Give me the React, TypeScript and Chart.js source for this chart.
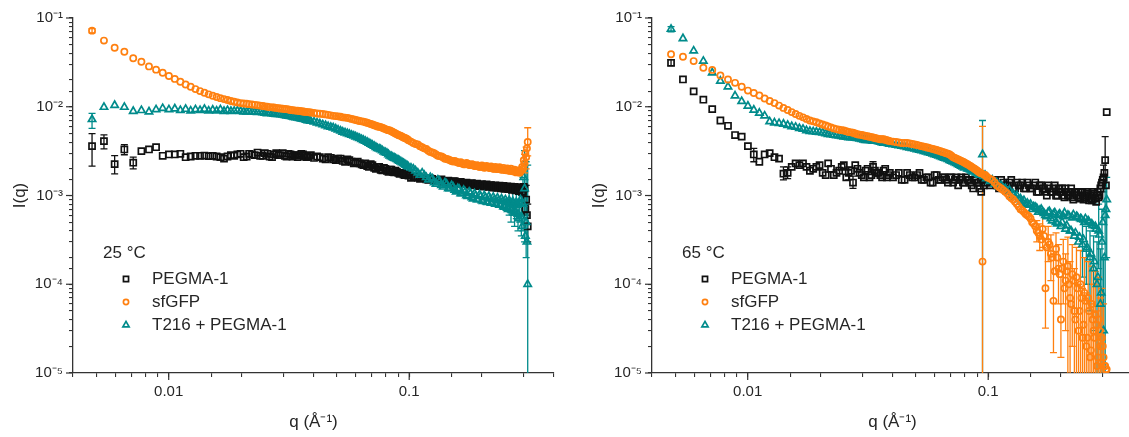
import React, { useEffect, useRef } from 'react';
import { Chart, registerables } from 'chart.js';

Chart.register(...registerables);

// ---------------- data ----------------
// main q grid (Å⁻¹)
const q = [
  0.0048, 0.00538, 0.00596, 0.00654, 0.00712, 0.0077, 0.00828, 0.00886, 0.00944, 0.01002, 0.0106, 0.01118,
  0.01176, 0.01234, 0.01292, 0.0135, 0.01408, 0.01466, 0.01524, 0.01582, 0.0164, 0.01698, 0.01756, 0.01814,
  0.0193, 0.0205, 0.0216, 0.0228, 0.024, 0.0251, 0.0263, 0.0274, 0.0286, 0.0298, 0.0309, 0.0321, 0.0332, 0.0344,
  0.0356, 0.0367, 0.0379, 0.039,
  0.0414, 0.0437, 0.046, 0.0483, 0.0506, 0.0529, 0.0553, 0.0576, 0.0599, 0.0622, 0.0645, 0.0669, 0.0692, 0.0715,
  0.0738, 0.0761, 0.0785, 0.0808, 0.0831, 0.0854, 0.0877, 0.0901, 0.0924, 0.0947, 0.097, 0.0993,
  0.104, 0.1086, 0.1132, 0.1178, 0.1224, 0.127, 0.1316, 0.1362, 0.1408, 0.1454, 0.15, 0.1546, 0.1592, 0.1638,
  0.1684, 0.173, 0.1776, 0.1822, 0.1868, 0.1914, 0.196, 0.2006, 0.2052, 0.2098, 0.2144, 0.219, 0.2236, 0.2282,
  0.2328, 0.2374, 0.242, 0.2466, 0.2512, 0.2558, 0.2604, 0.265, 0.2696, 0.2742, 0.2788, 0.2834, 0.288, 0.2926,
  0.2972, 0.3018, 0.3064, 0.311,
];
// in-between q points of the dense part
const qMid = [
  0.01872, 0.0199, 0.0211, 0.0222, 0.0234, 0.0246, 0.0257, 0.0269, 0.028, 0.0292, 0.0304, 0.0315, 0.0327, 0.0338,
  0.035, 0.0362, 0.0373, 0.0385,
  0.0402, 0.0425, 0.0449, 0.0472, 0.0495, 0.0518, 0.0541, 0.0564, 0.0588, 0.0611, 0.0634, 0.0657, 0.068, 0.0703,
  0.0727, 0.075, 0.0773, 0.0796, 0.082, 0.0843, 0.0866, 0.0889, 0.0912, 0.0935, 0.0959, 0.0982,
  0.1017, 0.1063, 0.1109, 0.1155, 0.1201, 0.1247, 0.1293, 0.1339, 0.1385, 0.1431, 0.1477, 0.1523, 0.1569, 0.1615,
  0.1661, 0.1707, 0.1753, 0.1799, 0.1845, 0.1891, 0.1937, 0.1983, 0.2029, 0.2075, 0.2121, 0.2167, 0.2213, 0.2259,
  0.2305, 0.2351, 0.2397, 0.2443, 0.2489, 0.2535, 0.2581, 0.2627, 0.2673, 0.2719, 0.2765, 0.2811, 0.2857, 0.2903,
  0.2949, 0.2995, 0.3041, 0.3087,
];

// 25 °C
const pegma25 = [
  3.6e-3, 4.1e-3, 2.26e-3, 3.3e-3, 2.34e-3, 3.16e-3, 3.3e-3, 3.5e-3, 2.8e-3, 2.9e-3, 2.9e-3, 2.95e-3,
  2.7e-3, 2.75e-3, 2.8e-3, 2.8e-3, 2.82e-3, 2.78e-3, 2.8e-3, 2.75e-3, 2.7e-3, 2.6e-3, 2.75e-3, 2.85e-3,
  2.9e-3, 2.7e-3, 2.95e-3, 2.85e-3, 2.8e-3, 3.0e-3, 2.75e-3, 2.9e-3, 2.85e-3, 3.0e-3, 2.75e-3, 2.9e-3, 2.85e-3, 2.7e-3,
  2.95e-3, 2.8e-3, 2.75e-3, 2.85e-3,
  2.75e-3, 2.6e-3, 2.7e-3, 2.55e-3, 2.6e-3, 2.45e-3, 2.55e-3, 2.4e-3, 2.35e-3, 2.3e-3, 2.2e-3, 2.15e-3, 2.25e-3, 2.05e-3,
  2.1e-3, 1.95e-3, 2.05e-3, 1.9e-3, 1.95e-3, 1.85e-3, 1.9e-3, 1.8e-3, 1.8e-3, 1.72e-3, 1.75e-3, 1.68e-3,
  1.62e-3, 1.58e-3, 1.6e-3, 1.52e-3, 1.56e-3, 1.5e-3, 1.48e-3, 1.52e-3, 1.44e-3, 1.47e-3, 1.42e-3, 1.45e-3, 1.38e-3, 1.42e-3,
  1.36e-3, 1.4e-3, 1.34e-3, 1.38e-3, 1.32e-3, 1.36e-3, 1.3e-3, 1.34e-3, 1.28e-3, 1.33e-3, 1.27e-3, 1.31e-3, 1.25e-3, 1.3e-3,
  1.24e-3, 1.29e-3, 1.22e-3, 1.28e-3, 1.21e-3, 1.27e-3, 1.2e-3, 1.26e-3, 1.18e-3, 1.25e-3, 1.16e-3, 1.24e-3, 1.15e-3, 1.22e-3,
  1.1e-3, 1.2e-3, 0.9e-3, 0.45e-3,
];
const pegma25Mid = [
  2.8e-3, 2.95e-3, 2.75e-3, 2.9e-3, 3.05e-3, 2.8e-3, 2.95e-3, 2.7e-3, 3.0e-3, 2.85e-3, 2.8e-3, 2.95e-3, 2.75e-3, 2.85e-3,
  2.8e-3, 2.9e-3, 2.7e-3, 2.8e-3,
  2.65e-3, 2.7e-3, 2.55e-3, 2.65e-3, 2.5e-3, 2.6e-3, 2.4e-3, 2.5e-3, 2.3e-3, 2.4e-3, 2.25e-3, 2.3e-3, 2.1e-3, 2.2e-3,
  2.0e-3, 2.1e-3, 1.92e-3, 2.0e-3, 1.85e-3, 1.95e-3, 1.82e-3, 1.85e-3, 1.75e-3, 1.8e-3, 1.7e-3, 1.72e-3,
  1.58e-3, 1.64e-3, 1.54e-3, 1.58e-3, 1.5e-3, 1.54e-3, 1.46e-3, 1.5e-3, 1.42e-3, 1.46e-3, 1.4e-3, 1.44e-3, 1.36e-3, 1.4e-3,
  1.34e-3, 1.38e-3, 1.32e-3, 1.36e-3, 1.3e-3, 1.34e-3, 1.28e-3, 1.32e-3, 1.26e-3, 1.31e-3, 1.25e-3, 1.3e-3, 1.23e-3, 1.28e-3,
  1.22e-3, 1.27e-3, 1.2e-3, 1.26e-3, 1.19e-3, 1.25e-3, 1.18e-3, 1.24e-3, 1.16e-3, 1.23e-3, 1.14e-3, 1.22e-3, 1.12e-3, 1.2e-3,
  1.1e-3, 1.25e-3, 0.7e-3, 0.6e-3,
];
const sfgfp25 = [
  7.2e-2, 5.56e-2, 4.62e-2, 4.17e-2, 3.52e-2, 3.22e-2, 2.85e-2, 2.62e-2, 2.42e-2, 2.22e-2, 2.06e-2, 1.91e-2,
  1.78e-2, 1.68e-2, 1.58e-2, 1.5e-2, 1.44e-2, 1.38e-2, 1.33e-2, 1.29e-2, 1.25e-2, 1.22e-2, 1.19e-2, 1.16e-2,
  1.12e-2, 1.09e-2, 1.07e-2, 1.05e-2, 1.03e-2, 1.01e-2, 9.9e-3, 9.8e-3, 9.6e-3, 9.5e-3, 9.4e-3, 9.2e-3, 9.1e-3, 9.0e-3,
  8.9e-3, 8.8e-3, 8.7e-3, 8.6e-3,
  8.4e-3, 8.3e-3, 8.1e-3, 7.9e-3, 7.8e-3, 7.6e-3, 7.5e-3, 7.3e-3, 7.1e-3, 6.9e-3, 6.8e-3, 6.6e-3, 6.4e-3, 6.2e-3,
  6.0e-3, 5.9e-3, 5.7e-3, 5.5e-3, 5.4e-3, 5.2e-3, 5.0e-3, 4.8e-3, 4.7e-3, 4.5e-3, 4.4e-3, 4.2e-3,
  3.9e-3, 3.75e-3, 3.5e-3, 3.35e-3, 3.1e-3, 3.0e-3, 2.8e-3, 2.75e-3, 2.6e-3, 2.55e-3, 2.45e-3, 2.45e-3, 2.35e-3, 2.38e-3,
  2.25e-3, 2.32e-3, 2.2e-3, 2.25e-3, 2.15e-3, 2.2e-3, 2.1e-3, 2.18e-3, 2.05e-3, 2.15e-3, 2.05e-3, 2.12e-3, 2.0e-3, 2.1e-3,
  1.98e-3, 2.08e-3, 1.95e-3, 2.05e-3, 1.93e-3, 2.02e-3, 1.9e-3, 2.0e-3, 1.88e-3, 1.95e-3, 1.82e-3, 1.92e-3, 1.8e-3, 1.9e-3,
  2.0e-3, 2.3e-3, 2.7e-3, 4.0e-3,
];
const sfgfp25Mid = [
  1.14e-2, 1.1e-2, 1.08e-2, 1.06e-2, 1.04e-2, 1.02e-2, 1.0e-2, 9.85e-3, 9.7e-3, 9.55e-3, 9.45e-3, 9.3e-3, 9.15e-3, 9.05e-3,
  8.95e-3, 8.85e-3, 8.75e-3, 8.65e-3,
  8.5e-3, 8.35e-3, 8.2e-3, 8.0e-3, 7.85e-3, 7.7e-3, 7.55e-3, 7.4e-3, 7.2e-3, 7.0e-3, 6.85e-3, 6.7e-3, 6.5e-3, 6.3e-3,
  6.1e-3, 5.95e-3, 5.8e-3, 5.6e-3, 5.45e-3, 5.3e-3, 5.1e-3, 4.9e-3, 4.75e-3, 4.6e-3, 4.45e-3, 4.3e-3,
  4.05e-3, 3.8e-3, 3.6e-3, 3.4e-3, 3.2e-3, 3.05e-3, 2.9e-3, 2.78e-3, 2.68e-3, 2.58e-3, 2.5e-3, 2.42e-3, 2.4e-3, 2.32e-3,
  2.3e-3, 2.25e-3, 2.28e-3, 2.2e-3, 2.22e-3, 2.15e-3, 2.16e-3, 2.1e-3, 2.12e-3, 2.08e-3, 2.1e-3, 2.04e-3, 2.06e-3, 2.0e-3,
  2.04e-3, 1.98e-3, 2.0e-3, 1.96e-3, 1.98e-3, 1.92e-3, 1.96e-3, 1.9e-3, 1.92e-3, 1.86e-3, 1.88e-3, 1.84e-3, 1.86e-3, 1.88e-3,
  2.1e-3, 2.5e-3, 3.0e-3, 3.4e-3,
];
const t216_25 = [
  7.2e-3, 9.9e-3, 1.04e-2, 9.9e-3, 8.9e-3, 9.1e-3, 8.8e-3, 9.3e-3, 9.6e-3, 9.3e-3, 9.5e-3, 9.1e-3,
  9.4e-3, 9.0e-3, 9.3e-3, 9.1e-3, 9.4e-3, 9.0e-3, 9.2e-3, 9.0e-3, 9.3e-3, 8.9e-3, 9.1e-3, 8.9e-3,
  9.0e-3, 8.8e-3, 8.9e-3, 8.7e-3, 8.7e-3, 8.5e-3, 8.5e-3, 8.3e-3, 8.2e-3, 8.1e-3, 7.9e-3, 7.8e-3, 7.6e-3, 7.5e-3,
  7.3e-3, 7.2e-3, 7.0e-3, 6.9e-3,
  6.6e-3, 6.3e-3, 6.0e-3, 5.8e-3, 5.5e-3, 5.2e-3, 5.0e-3, 4.8e-3, 4.6e-3, 4.4e-3, 4.2e-3, 4.0e-3, 3.8e-3, 3.6e-3,
  3.4e-3, 3.3e-3, 3.1e-3, 3.0e-3, 2.8e-3, 2.7e-3, 2.6e-3, 2.5e-3, 2.4e-3, 2.3e-3, 2.2e-3, 2.1e-3,
  2.0e-3, 1.8e-3, 1.8e-3, 1.6e-3, 1.6e-3, 1.4e-3, 1.5e-3, 1.3e-3, 1.4e-3, 1.2e-3, 1.3e-3, 1.15e-3, 1.2e-3, 1.05e-3,
  1.15e-3, 1.0e-3, 1.1e-3, 0.95e-3, 1.05e-3, 0.9e-3, 1.02e-3, 0.88e-3, 1.0e-3, 0.85e-3, 0.98e-3, 0.82e-3, 0.96e-3, 0.8e-3,
  0.94e-3, 0.78e-3, 0.92e-3, 0.75e-3, 0.9e-3, 0.72e-3, 0.88e-3, 0.7e-3, 0.86e-3, 0.66e-3, 0.84e-3, 0.62e-3, 0.82e-3, 0.58e-3,
  0.8e-3, 1.2e-3, 0.5e-3, 1.0e-4,
];
const t216_25Mid = [
  8.95e-3, 8.9e-3, 8.8e-3, 8.75e-3, 8.65e-3, 8.6e-3, 8.4e-3, 8.4e-3, 8.2e-3, 8.15e-3, 8.0e-3, 7.85e-3, 7.7e-3, 7.55e-3,
  7.4e-3, 7.25e-3, 7.1e-3, 7.0e-3,
  6.75e-3, 6.45e-3, 6.15e-3, 5.9e-3, 5.65e-3, 5.35e-3, 5.1e-3, 4.9e-3, 4.7e-3, 4.5e-3, 4.3e-3, 4.1e-3, 3.9e-3, 3.7e-3,
  3.5e-3, 3.35e-3, 3.2e-3, 3.05e-3, 2.9e-3, 2.75e-3, 2.65e-3, 2.55e-3, 2.45e-3, 2.35e-3, 2.25e-3, 2.15e-3,
  2.05e-3, 1.9e-3, 1.7e-3, 1.7e-3, 1.5e-3, 1.55e-3, 1.35e-3, 1.45e-3, 1.25e-3, 1.35e-3, 1.2e-3, 1.25e-3, 1.1e-3, 1.18e-3,
  1.05e-3, 1.1e-3, 0.98e-3, 1.06e-3, 0.92e-3, 1.0e-3, 0.9e-3, 0.98e-3, 0.86e-3, 0.95e-3, 0.84e-3, 0.92e-3, 0.82e-3, 0.9e-3,
  0.8e-3, 0.88e-3, 0.78e-3, 0.86e-3, 0.74e-3, 0.84e-3, 0.7e-3, 0.82e-3, 0.68e-3, 0.8e-3, 0.64e-3, 0.78e-3, 0.55e-3, 0.9e-3,
  0.45e-3, 1.6e-3, 0.35e-3, 0.3e-3,
];

// 65 °C
const pegma65 = [
  3.13e-2, 2.03e-2, 1.49e-2, 1.2e-2, 9.4e-3, 7.0e-3, 6.1e-3, 4.8e-3, 4.6e-3, 3.6e-3, 2.9e-3, 2.4e-3,
  2.9e-3, 3.0e-3, 2.7e-3, 2.6e-3, 1.76e-3, 1.8e-3, 2.1e-3, 2.3e-3, 2.2e-3, 2.3e-3, 2.1e-3, 1.9e-3,
  2.1e-3, 1.8e-3, 2.3e-3, 1.7e-3, 1.9e-3, 2.2e-3, 1.8e-3, 1.4e-3, 2.0e-3, 1.7e-3, 1.9e-3, 1.6e-3, 2.1e-3, 1.8e-3,
  1.7e-3, 1.9e-3, 1.6e-3, 1.8e-3,
  1.7e-3, 1.5e-3, 1.8e-3, 1.6e-3, 1.7e-3, 1.5e-3, 1.6e-3, 1.4e-3, 1.7e-3, 1.5e-3, 1.6e-3, 1.5e-3, 1.6e-3, 1.4e-3,
  1.6e-3, 1.5e-3, 1.4e-3, 1.6e-3, 1.5e-3, 1.3e-3, 1.5e-3, 1.4e-3, 1.2e-3, 1.5e-3, 1.4e-3, 1.4e-3,
  1.4e-3, 1.3e-3, 1.5e-3, 1.3e-3, 1.4e-3, 1.2e-3, 1.4e-3, 1.3e-3, 1.2e-3, 1.4e-3, 1.2e-3, 1.3e-3, 1.1e-3, 1.3e-3,
  1.2e-3, 1.1e-3, 1.3e-3, 1.1e-3, 1.2e-3, 1.0e-3, 1.2e-3, 1.1e-3, 1.0e-3, 1.2e-3, 1.0e-3, 1.1e-3, 0.95e-3, 1.1e-3,
  1.0e-3, 1.1e-3, 0.92e-3, 1.1e-3, 0.95e-3, 1.1e-3, 0.92e-3, 1.0e-3, 0.88e-3, 1.1e-3, 0.92e-3, 1.0e-3, 0.95e-3, 1.2e-3,
  1.4e-3, 1.6e-3, 2.5e-3, 8.7e-3,
];
const pegma65Mid = [
  2.0e-3, 2.2e-3, 1.7e-3, 2.0e-3, 1.8e-3, 2.1e-3, 1.6e-3, 1.9e-3, 2.2e-3, 1.8e-3, 1.6e-3, 2.0e-3, 1.7e-3, 1.9e-3,
  1.8e-3, 1.6e-3, 2.0e-3, 1.7e-3,
  1.6e-3, 1.8e-3, 1.5e-3, 1.7e-3, 1.6e-3, 1.8e-3, 1.5e-3, 1.6e-3, 1.4e-3, 1.7e-3, 1.5e-3, 1.6e-3, 1.4e-3, 1.6e-3,
  1.5e-3, 1.3e-3, 1.6e-3, 1.4e-3, 1.5e-3, 1.4e-3, 1.2e-3, 1.5e-3, 1.4e-3, 1.1e-3, 1.3e-3, 1.5e-3,
  1.3e-3, 1.5e-3, 1.2e-3, 1.4e-3, 1.3e-3, 1.5e-3, 1.2e-3, 1.3e-3, 1.4e-3, 1.2e-3, 1.3e-3, 1.2e-3, 1.4e-3, 1.1e-3,
  1.3e-3, 1.2e-3, 1.0e-3, 1.2e-3, 1.1e-3, 1.3e-3, 1.0e-3, 1.1e-3, 1.2e-3, 0.95e-3, 1.1e-3, 1.0e-3, 1.2e-3, 0.9e-3,
  1.1e-3, 1.0e-3, 0.95e-3, 1.1e-3, 0.9e-3, 1.0e-3, 1.05e-3, 0.88e-3, 1.0e-3, 0.9e-3, 1.05e-3, 0.85e-3, 1.1e-3, 1.0e-3,
  1.3e-3, 1.5e-3, 1.8e-3, 1.3e-3,
];
const sfgfp65 = [
  3.9e-2, 3.66e-2, 3.27e-2, 2.75e-2, 2.6e-2, 2.25e-2, 2.03e-2, 1.86e-2, 1.68e-2, 1.52e-2, 1.43e-2, 1.34e-2,
  1.24e-2, 1.16e-2, 1.1e-2, 1.03e-2, 9.7e-3, 9.2e-3, 8.7e-3, 8.3e-3, 7.9e-3, 7.6e-3, 7.3e-3, 7.0e-3,
  6.7e-3, 6.3e-3, 6.0e-3, 5.7e-3, 5.5e-3, 5.4e-3, 5.2e-3, 5.1e-3, 4.9e-3, 4.8e-3, 4.7e-3, 4.6e-3, 4.5e-3, 4.4e-3,
  4.3e-3, 4.3e-3, 4.2e-3, 4.1e-3,
  4.0e-3, 3.9e-3, 3.9e-3, 3.8e-3, 3.7e-3, 3.6e-3, 3.5e-3, 3.4e-3, 3.3e-3, 3.2e-3, 3.1e-3, 3.0e-3, 2.9e-3, 2.7e-3,
  2.6e-3, 2.5e-3, 2.4e-3, 2.3e-3, 2.2e-3, 2.1e-3, 2.0e-3, 1.9e-3, 1.8e-3, 1.8e-4, 1.7e-3, 1.6e-3,
  1.5e-3, 1.3e-3, 1.2e-3, 1.1e-3, 9.8e-4, 9.0e-4, 8.0e-4, 7.0e-4, 6.5e-4, 6.0e-4, 5.5e-4, 4.8e-4, 4.0e-4, 3.5e-4,
  4.2e-4, 9.0e-5, 3.0e-4, 2.2e-4, 6.5e-5, 2.5e-4, 1.5e-4, 4.0e-5, 1.8e-4, 1.1e-4, 1.6e-4, 7.0e-5, 1.3e-4, 5.0e-5,
  1.2e-4, 3.0e-5, 1.0e-4, 2.5e-5, 8.0e-5, 2.0e-5, 7.0e-5, 1.5e-5, 6.0e-5, 3.0e-5, 4.5e-5, 1.2e-5, 4.0e-5, 2.0e-5,
  2.5e-5, 1.5e-5, 1.2e-5, 1.1e-5,
];
const sfgfp65Mid = [
  6.85e-3, 6.5e-3, 6.15e-3, 5.85e-3, 5.6e-3, 5.45e-3, 5.3e-3, 5.15e-3, 5.0e-3, 4.85e-3, 4.75e-3, 4.65e-3, 4.55e-3, 4.45e-3,
  4.35e-3, 4.3e-3, 4.25e-3, 4.15e-3,
  4.05e-3, 3.95e-3, 3.9e-3, 3.85e-3, 3.75e-3, 3.65e-3, 3.55e-3, 3.45e-3, 3.35e-3, 3.25e-3, 3.15e-3, 3.05e-3, 2.95e-3, 2.8e-3,
  2.65e-3, 2.55e-3, 2.45e-3, 2.35e-3, 2.25e-3, 2.15e-3, 2.05e-3, 1.95e-3, 1.85e-3, 1.78e-3, 1.72e-3, 1.65e-3,
  1.55e-3, 1.4e-3, 1.25e-3, 1.15e-3, 1.05e-3, 9.4e-4, 8.5e-4, 7.5e-4, 6.8e-4, 6.2e-4, 5.8e-4, 5.0e-4, 4.5e-4, 3.8e-4,
  3.2e-4, 3.5e-4, 2.6e-4, 2.8e-4, 2.0e-4, 1.4e-4, 2.0e-4, 1.3e-4, 1.5e-4, 9.0e-5, 1.4e-4, 1.0e-4, 6.0e-5, 1.1e-4,
  4.0e-5, 9.0e-5, 5.0e-5, 7.0e-5, 3.5e-5, 6.5e-5, 2.5e-5, 5.0e-5, 1.8e-5, 4.0e-5, 2.5e-5, 3.5e-5, 1.5e-5, 3.0e-5,
  1.3e-5, 2.0e-5, 1.2e-5, 1.1e-5,
];
const t216_65 = [
  7.5e-2, 5.88e-2, 4.27e-2, 3.27e-2, 2.42e-2, 1.95e-2, 1.68e-2, 1.33e-2, 1.15e-2, 1.02e-2, 9.2e-3, 8.5e-3,
  7.9e-3, 6.8e-3, 6.6e-3, 6.5e-3, 6.4e-3, 6.2e-3, 6.0e-3, 5.9e-3, 5.7e-3, 5.6e-3, 5.4e-3, 5.3e-3,
  5.2e-3, 5.1e-3, 4.9e-3, 4.8e-3, 4.7e-3, 4.6e-3, 4.5e-3, 4.5e-3, 4.4e-3, 4.3e-3, 4.2e-3, 4.2e-3, 4.1e-3, 4.1e-3,
  4.0e-3, 3.9e-3, 3.9e-3, 3.8e-3,
  3.7e-3, 3.6e-3, 3.5e-3, 3.4e-3, 3.3e-3, 3.2e-3, 3.1e-3, 3.0e-3, 2.9e-3, 2.8e-3, 2.7e-3, 2.6e-3, 2.5e-3, 2.4e-3,
  2.3e-3, 2.2e-3, 2.1e-3, 2.1e-3, 2.0e-3, 1.9e-3, 1.9e-3, 1.8e-3, 1.7e-3, 2.9e-3, 1.7e-3, 1.6e-3,
  1.5e-3, 1.4e-3, 1.3e-3, 1.2e-3, 1.15e-3, 1.05e-3, 1.0e-3, 9.2e-4, 8.8e-4, 8.2e-4, 8.0e-4, 7.5e-4, 7.2e-4, 6.8e-4,
  6.6e-4, 6.0e-4, 6.5e-4, 5.5e-4, 6.2e-4, 5.0e-4, 6.0e-4, 4.5e-4, 5.8e-4, 4.2e-4, 6.0e-4, 4.0e-4, 5.6e-4, 3.5e-4,
  5.8e-4, 3.0e-4, 5.5e-4, 2.8e-4, 5.0e-4, 2.5e-4, 5.2e-4, 2.0e-4, 4.8e-4, 1.5e-4, 4.5e-4, 1.0e-4, 4.0e-4, 6.0e-5,
  3.0e-4, 3.0e-5, 6.0e-4, 9.0e-4,
];
const t216_65Mid = [
  5.25e-3, 5.15e-3, 5.0e-3, 4.85e-3, 4.75e-3, 4.65e-3, 4.55e-3, 4.5e-3, 4.45e-3, 4.35e-3, 4.25e-3, 4.2e-3, 4.15e-3, 4.1e-3,
  4.05e-3, 3.95e-3, 3.9e-3, 3.85e-3,
  3.75e-3, 3.65e-3, 3.55e-3, 3.45e-3, 3.35e-3, 3.25e-3, 3.15e-3, 3.05e-3, 2.95e-3, 2.85e-3, 2.75e-3, 2.65e-3, 2.55e-3, 2.45e-3,
  2.35e-3, 2.25e-3, 2.15e-3, 2.05e-3, 2.0e-3, 1.95e-3, 1.85e-3, 1.8e-3, 1.75e-3, 1.7e-3, 1.65e-3, 1.55e-3,
  1.45e-3, 1.35e-3, 1.25e-3, 1.2e-3, 1.1e-3, 1.0e-3, 9.6e-4, 9.0e-4, 8.5e-4, 8.0e-4, 7.8e-4, 7.0e-4, 7.4e-4, 6.5e-4,
  7.0e-4, 6.3e-4, 5.8e-4, 6.6e-4, 5.2e-4, 6.4e-4, 4.8e-4, 6.2e-4, 5.0e-4, 6.4e-4, 4.6e-4, 5.9e-4, 4.0e-4, 6.1e-4,
  3.8e-4, 5.7e-4, 3.4e-4, 5.4e-4, 3.2e-4, 5.5e-4, 2.6e-4, 5.0e-4, 2.2e-4, 4.6e-4, 1.8e-4, 4.2e-4, 1.2e-4, 3.6e-4,
  8.0e-5, 5.0e-4, 2.0e-4, 7.0e-4,
];

// error bars: [q, low, high]
const pegma25Err = [
  [0.0048, 2.14e-3, 4.97e-3], [0.00538, 3.36e-3, 4.83e-3], [0.00596, 1.75e-3, 2.82e-3],
  [0.00654, 2.88e-3, 3.75e-3], [0.00712, 2.0e-3, 2.7e-3], [0.3064, 0.6e-3, 1.3e-3], [0.311, 0.3e-3, 0.8e-3],
];
const sfgfp25Err = [
  [0.0048, 6.8e-2, 7.6e-2], [0.3018, 1.8e-3, 2.9e-3], [0.3064, 2.0e-3, 3.5e-3], [0.311, 2.8e-3, 5.8e-3],
];
const t216_25Err = [
  [0.0048, 5.7e-3, 8.4e-3], [0.2604, 0.6e-3, 1.1e-3], [0.265, 0.5e-3, 0.9e-3], [0.2696, 0.6e-3, 1.1e-3],
  [0.2742, 0.45e-3, 0.9e-3], [0.2788, 0.55e-3, 1.2e-3], [0.2834, 0.4e-3, 0.9e-3], [0.288, 0.5e-3, 1.3e-3],
  [0.2926, 0.35e-3, 1.0e-3], [0.2972, 0.4e-3, 1.6e-3], [0.3018, 0.3e-3, 3.2e-3], [0.3064, 0.2e-3, 2.4e-3],
  [0.311, 1e-6, 2.2e-3],
];
const pegma65Err = [
  [0.0048, 2.9e-2, 3.4e-2], [0.0106, 2.4e-3, 3.4e-3], [0.01408, 1.5e-3, 2.1e-3], [0.01466, 1.55e-3, 2.1e-3],
  [0.0263, 1.5e-3, 2.1e-3], [0.0274, 1.2e-3, 1.65e-3], [0.0332, 1.8e-3, 2.4e-3], [0.3018, 1.1e-3, 2.2e-3],
  [0.3064, 1.2e-3, 4.6e-3],
];
const sfgfp65Err = [
  [0.0947, 1e-6, 6e-3], [0.1592, 3.0e-4, 5.2e-4], [0.1638, 2.4e-4, 4.8e-4], [0.1684, 2.6e-4, 6.0e-4],
  [0.173, 3.2e-5, 2.5e-4], [0.1776, 1.8e-4, 4.5e-4], [0.1822, 1.1e-4, 3.6e-4], [0.1868, 1.7e-5, 2.2e-4],
  [0.1914, 1.3e-4, 3.8e-4], [0.196, 6e-5, 2.8e-4], [0.2006, 1.5e-5, 1.2e-4], [0.2052, 6e-5, 3.2e-4],
  [0.2098, 3e-5, 2.2e-4], [0.2144, 1e-6, 3.4e-4], [0.219, 1e-6, 1.8e-4], [0.2236, 2e-5, 2.8e-4],
  [0.2282, 1e-6, 1.5e-4], [0.2328, 1e-6, 2.6e-4], [0.2374, 1e-6, 1.0e-4], [0.242, 1e-6, 2.4e-4],
  [0.2466, 1e-6, 9e-5], [0.2512, 1e-6, 2.0e-4], [0.2558, 1e-6, 8e-5], [0.2604, 1e-6, 1.8e-4],
  [0.265, 1e-6, 6e-5], [0.2696, 1e-6, 1.6e-4], [0.2742, 1e-6, 1.0e-4], [0.2788, 1e-6, 1.4e-4],
  [0.2834, 1e-6, 5e-5], [0.288, 1e-6, 1.2e-4], [0.2926, 1e-6, 7e-5], [0.2972, 1e-6, 9e-5], [0.3018, 1e-6, 6e-5],
];
const t216_65Err = [
  [0.0048, 7.0e-2, 8.0e-2], [0.0947, 1e-6, 7.0e-3], [0.2466, 1.2e-4, 5e-4], [0.2558, 1e-4, 4.5e-4],
  [0.265, 5e-5, 4e-4], [0.2742, 3e-5, 3.5e-4], [0.2834, 1e-6, 3e-4], [0.288, 1.5e-4, 8e-4],
  [0.2926, 1e-6, 2.5e-4], [0.2972, 1e-6, 7e-4], [0.3018, 1e-6, 2e-4], [0.3064, 1e-6, 1.2e-3], [0.311, 2e-4, 1.6e-3],
];

const seriesLabels = ['PEGMA-1', 'sfGFP', 'T216 + PEGMA-1'];
const xTitle = 'q (Å⁻¹)';
const yTitle = 'I(q)';

// ---------------- style ----------------
const FONT = '"Liberation Sans", Arial, Helvetica, sans-serif';
const TEXT = '#262626';
const AXIS = '#333333';
const COLORS = ['#111111', '#ff8010', '#008b8b'];
const STYLES = ['rect', 'circle', 'triangle'];
const RADII = [4.3, 3.1, 4.2];
const ORDERS = [3, 1, 2];

const SUP: Record<string, string> = {
  '-': '⁻', '0': '⁰', '1': '¹', '2': '²', '3': '³', '4': '⁴', '5': '⁵', '6': '⁶', '7': '⁷', '8': '⁸', '9': '⁹',
};
function isPow10(v: number) {
  const e = Math.round(Math.log10(v));
  return Math.abs(v / Math.pow(10, e) - 1) < 1e-6;
}
function pow10Label(v: number) {
  const e = Math.round(Math.log10(v));
  return '10' + String(e).split('').map((c) => SUP[c] || c).join('');
}

function markerPath(ctx: CanvasRenderingContext2D, style: string, x: number, y: number, r: number) {
  ctx.beginPath();
  if (style === 'rect') {
    const s = r * Math.SQRT1_2;
    ctx.rect(x - s, y - s, 2 * s, 2 * s);
  } else if (style === 'circle') {
    ctx.arc(x, y, r, 0, Math.PI * 2);
  } else {
    let a = 0;
    ctx.moveTo(x + Math.sin(a) * r, y - Math.cos(a) * r);
    a += (2 * Math.PI) / 3;
    ctx.lineTo(x + Math.sin(a) * r, y - Math.cos(a) * r);
    a += (2 * Math.PI) / 3;
    ctx.lineTo(x + Math.sin(a) * r, y - Math.cos(a) * r);
    ctx.closePath();
  }
}

const errorBarPlugin = {
  id: 'errorBars',
  beforeDatasetsDraw(chart: any) {
    const { ctx, chartArea: a, scales } = chart;
    ctx.save();
    ctx.beginPath();
    ctx.rect(a.left, a.top - 2, a.right - a.left, a.bottom - a.top + 2);
    ctx.clip();
    const dsList = [...chart.data.datasets].sort((d1: any, d2: any) => d2.order - d1.order);
    dsList.forEach((ds: any) => {
      const bars = ds.errorBars || [];
      ctx.strokeStyle = ds.borderColor;
      ctx.lineWidth = 1.3;
      for (const [qq, lo, hi] of bars) {
        const x = scales.x.getPixelForValue(qq);
        const y1 = scales.y.getPixelForValue(lo);
        const y2 = scales.y.getPixelForValue(hi);
        ctx.beginPath();
        ctx.moveTo(x, y1);
        ctx.lineTo(x, y2);
        ctx.moveTo(x - 3.5, y1);
        ctx.lineTo(x + 3.5, y1);
        ctx.moveTo(x - 3.5, y2);
        ctx.lineTo(x + 3.5, y2);
        ctx.stroke();
      }
    });
    ctx.restore();
  },
};

const majorTickPlugin = {
  id: 'majorTicks',
  afterDraw(chart: any) {
    const { ctx, chartArea: a } = chart;
    const xs = chart.scales.x;
    const ys = chart.scales.y;
    ctx.save();
    ctx.strokeStyle = AXIS;
    ctx.lineWidth = 1.2;
    xs.ticks.forEach((t: any) => {
      if (!isPow10(t.value)) return;
      const x = xs.getPixelForValue(t.value);
      ctx.beginPath();
      ctx.moveTo(x, a.bottom);
      ctx.lineTo(x, a.bottom + 7);
      ctx.stroke();
    });
    ys.ticks.forEach((t: any) => {
      if (!isPow10(t.value)) return;
      const y = ys.getPixelForValue(t.value);
      ctx.beginPath();
      ctx.moveTo(a.left, y);
      ctx.lineTo(a.left - 7, y);
      ctx.stroke();
    });
    ctx.restore();
  },
};

const panelLegendPlugin = {
  id: 'panelLegend',
  afterDraw(chart: any, _args: any, opts: any) {
    const { ctx, chartArea: a } = chart;
    ctx.save();
    ctx.fillStyle = TEXT;
    ctx.font = `17px ${FONT}`;
    ctx.textBaseline = 'middle';
    ctx.textAlign = 'left';
    ctx.fillText(opts.title, a.left + 30, 253);
    chart.data.datasets.forEach((ds: any, i: number) => {
      const y = 279 + 23 * i;
      ctx.strokeStyle = ds.borderColor;
      ctx.lineWidth = 1.7;
      markerPath(ctx, ds.pointStyle, a.left + 53, y, ds.pointStyle === 'circle' ? 2.6 : 3.6);
      ctx.stroke();
      ctx.fillStyle = TEXT;
      ctx.fillText(ds.label, a.left + 79, y);
    });
    ctx.restore();
  },
};

function buildDatasets(values: number[][], mids: number[][], errs: number[][][]) {
  return values.map((vals, i) => ({
    label: seriesLabels[i],
    data: [
      ...q.map((x, k) => ({ x, y: vals[k] })),
      ...qMid.map((x, k) => ({ x, y: mids[i][k] })),
    ],
    borderColor: COLORS[i],
    backgroundColor: 'rgba(0,0,0,0)',
    pointStyle: STYLES[i],
    pointRadius: RADII[i],
    pointBorderWidth: 1.7,
    pointHoverRadius: RADII[i],
    showLine: false,
    order: ORDERS[i],
    errorBars: errs[i],
  }));
}

function Panel({ left, title, values, mids, errs }: {
  left: number; title: string; values: number[][]; mids: number[][]; errs: number[][][];
}) {
  const ref = useRef<HTMLCanvasElement>(null);
  useEffect(() => {
    const canvas = ref.current;
    if (!canvas) return;
    const chart = new Chart(canvas, {
      type: 'scatter',
      data: { datasets: buildDatasets(values, mids, errs) as any },
      options: {
        animation: false,
        responsive: false,
        devicePixelRatio: 1,
        events: [],
        layout: { padding: { top: 18, right: 6, left: 0, bottom: 0 } },
        plugins: {
          legend: { display: false },
          tooltip: { enabled: false },
          panelLegend: { title },
        } as any,
        scales: {
          x: {
            type: 'logarithmic',
            min: 0.004,
            max: 0.4,
            afterFit: (s: any) => { s.height = 64; },
            border: { display: true, color: AXIS, width: 1.3 },
            grid: { display: true, drawOnChartArea: false, drawTicks: true, tickLength: 4, color: AXIS, lineWidth: 1.1 },
            ticks: {
              autoSkip: false,
              maxRotation: 0,
              padding: 6,
              color: TEXT,
              font: { family: FONT, size: 15 },
              callback: (v: any) => (isPow10(Number(v)) ? String(Number(v)) : ''),
            },
            title: {
              display: true,
              text: xTitle,
              color: TEXT,
              font: { family: FONT, size: 17 },
              padding: { top: 0, bottom: 4 },
            },
          },
          y: {
            type: 'logarithmic',
            min: 1e-5,
            max: 0.1,
            afterFit: (s: any) => { s.width = 73; },
            border: { display: true, color: AXIS, width: 1.3 },
            grid: { display: true, drawOnChartArea: false, drawTicks: true, tickLength: 4, color: AXIS, lineWidth: 1.1 },
            ticks: {
              autoSkip: false,
              padding: 6,
              color: TEXT,
              font: { family: FONT, size: 15 },
              callback: (v: any) => (isPow10(Number(v)) ? pow10Label(Number(v)) : ''),
            },
            title: {
              display: true,
              text: yTitle,
              color: TEXT,
              font: { family: FONT, size: 17 },
              padding: { top: 10, bottom: 0 },
            },
          },
        },
      },
      plugins: [errorBarPlugin, majorTickPlugin, panelLegendPlugin],
    });
    return () => chart.destroy();
  }, []);
  return (
    <canvas
      ref={ref}
      width={560}
      height={437}
      style={{ position: 'absolute', left, top: 0, width: 560, height: 437 }}
    />
  );
}

export default function App() {
  return (
    <div style={{ position: 'fixed', left: 0, top: 0, width: 1129, height: 437, overflow: 'hidden', background: '#fff' }}>
      <Panel
        left={0}
        title="25 °C"
        values={[pegma25, sfgfp25, t216_25]}
        mids={[pegma25Mid, sfgfp25Mid, t216_25Mid]}
        errs={[pegma25Err, sfgfp25Err, t216_25Err]}
      />
      <Panel
        left={579}
        title="65 °C"
        values={[pegma65, sfgfp65, t216_65]}
        mids={[pegma65Mid, sfgfp65Mid, t216_65Mid]}
        errs={[pegma65Err, sfgfp65Err, t216_65Err]}
      />
    </div>
  );
}
